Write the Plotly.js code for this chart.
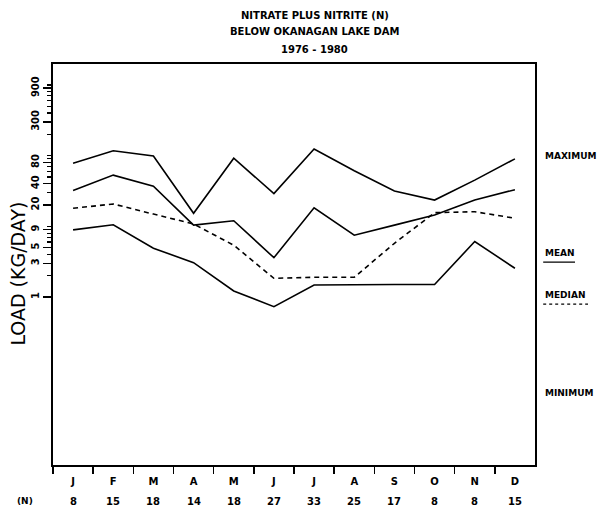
<!DOCTYPE html>
<html>
<head>
<meta charset="utf-8">
<script src="https://cdn.plot.ly/plotly-3.0.1.min.js"></script>
<style>
  html, body { margin: 0; padding: 0; background: #fff; }
  #chart { width: 603px; height: 515px; }
</style>
</head>
<body>
<div id="chart"></div>
<script>
// Monthly nitrate plus nitrite (N) loads below Okanagan Lake Dam, 1976-1980
const months = ["J", "F", "M", "A", "M", "J", "J", "A", "S", "O", "N", "D"];
const sampleCounts = [8, 15, 18, 14, 18, 27, 33, 25, 17, 8, 8, 15];

const maximumLoad = [78, 117, 99, 15.3, 92, 29, 124, 61, 31.6, 23.5, 45, 90];
const meanLoad    = [32, 53, 37, 10.4, 12.0, 3.6, 18.3, 7.5, 10.4, 14.5, 23.5, 33];
const medianLoad  = [18.0, 20.7, 14.9, 10.8, 5.4, 1.84, 1.90, 1.90, 5.75, 15.6, 16.1, 13.0];
const minimumLoad = [8.9, 10.5, 4.9, 3.06, 1.22, 0.73, 1.48, 1.50, 1.50, 1.50, 6.1, 2.55];

const yTickValues = [1, 3, 5, 9, 20, 40, 80, 300, 900];
const yMinorValues = [2, 4, 6, 7, 8, 10, 30, 50, 60, 70, 90, 100, 200, 400, 500, 600, 700, 800, 1000];

const monthIndex = months.map((_, i) => i);
const monthEdges = months.map((_, i) => i - 0.5);

const FONT = "DejaVu Sans, Arial, sans-serif";
const ink = "#000";

function series(values, name, dash) {
  return {
    type: "scatter",
    mode: "lines",
    name: name,
    x: monthIndex,
    y: values,
    line: { color: ink, width: 1.6, dash: dash || "solid" },
    hoverinfo: "skip",
    showlegend: false
  };
}

const traces = [
  series(maximumLoad, "MAXIMUM"),
  series(meanLoad, "MEAN"),
  series(medianLoad, "MEDIAN", "5px,4px"),
  series(minimumLoad, "MINIMUM")
];

const annotations = [];
const titleLines = ["NITRATE PLUS NITRITE (N)", "BELOW OKANAGAN LAKE DAM", "1976 - 1980"];
const titleY = [1.122, 1.080, 1.035];
titleLines.forEach((t, i) => annotations.push({
  text: t, xref: "paper", yref: "paper", x: 0.543, y: titleY[i],
  showarrow: false, xanchor: "center", yanchor: "middle",
  font: { family: FONT, size: 10, color: ink, weight: "bold" }
}));

// sample counts under each month
sampleCounts.forEach((n, i) => annotations.push({
  text: String(n), xref: "x", yref: "paper", x: i, y: -0.090,
  showarrow: false, xanchor: "center", yanchor: "middle",
  font: { family: FONT, size: 10, color: ink, weight: "bold" }
}));
annotations.push({
  text: "(N)", xref: "paper", yref: "paper", x: -0.058, y: -0.090,
  showarrow: false, xanchor: "center", yanchor: "middle",
  font: { family: FONT, size: 9, color: ink, weight: "bold" }
});

// series key on the right
const keyItems = [["MAXIMUM", 0.771], ["MEAN", 0.529], ["MEDIAN", 0.424], ["MINIMUM", 0.180]];
keyItems.forEach(([t, y]) => annotations.push({
  text: t, xref: "paper", yref: "paper", x: 1.017, y: y,
  showarrow: false, xanchor: "left", yanchor: "middle",
  font: { family: FONT, size: 9, color: ink, weight: "bold" }
}));

// y axis title
annotations.push({
  text: "LOAD (KG/DAY)", xref: "paper", yref: "paper", x: -0.072, y: 0.478,
  showarrow: false, textangle: -90, xanchor: "center", yanchor: "middle",
  font: { family: FONT, size: 19, color: ink }
});

const shapes = [
  { type: "line", xref: "paper", yref: "paper", x0: 1.017, x1: 1.083, y0: 0.506, y1: 0.506,
    line: { color: ink, width: 1.2 } },
  { type: "line", xref: "paper", yref: "paper", x0: 1.017, x1: 1.11, y0: 0.401, y1: 0.401,
    line: { color: ink, width: 1.2, dash: "3px,3px" } }
];

const layout = {
  width: 603,
  height: 515,
  margin: { l: 53, r: 68, t: 64, b: 50, pad: 0 },
  paper_bgcolor: "#fff",
  plot_bgcolor: "#fff",
  showlegend: false,
  xaxis: {
    range: [-0.5, 11.5],
    tickvals: monthIndex,
    ticktext: months,
    ticks: "",
    ticklabelstandoff: 6,
    tickfont: { family: FONT, size: 10, color: ink, weight: "bold" },
    showgrid: false,
    zeroline: false,
    showline: true,
    mirror: true,
    linecolor: ink,
    linewidth: 1.6,
    minor: { tickvals: monthEdges, ticks: "outside", ticklen: 7, tickwidth: 1.4, tickcolor: ink, showgrid: false },
    fixedrange: true
  },
  yaxis: {
    type: "log",
    range: [-2.376, 3.296],
    tickmode: "array",
    tickvals: yTickValues,
    ticktext: yTickValues.map(String),
    tickangle: -90,
    ticks: "outside",
    ticklen: 8,
    tickwidth: 1.4,
    tickcolor: ink,
    tickfont: { family: FONT, size: 10, color: ink, weight: "bold" },
    showgrid: false,
    zeroline: false,
    showline: true,
    mirror: true,
    linecolor: ink,
    linewidth: 1.6,
    minor: { tickvals: yMinorValues, ticks: "outside", ticklen: 4, tickwidth: 1.2, tickcolor: ink, showgrid: false },
    fixedrange: true
  },
  annotations: annotations,
  shapes: shapes
};

Plotly.newPlot("chart", traces, layout, { displayModeBar: false, staticPlot: true });
</script>
</body>
</html>
